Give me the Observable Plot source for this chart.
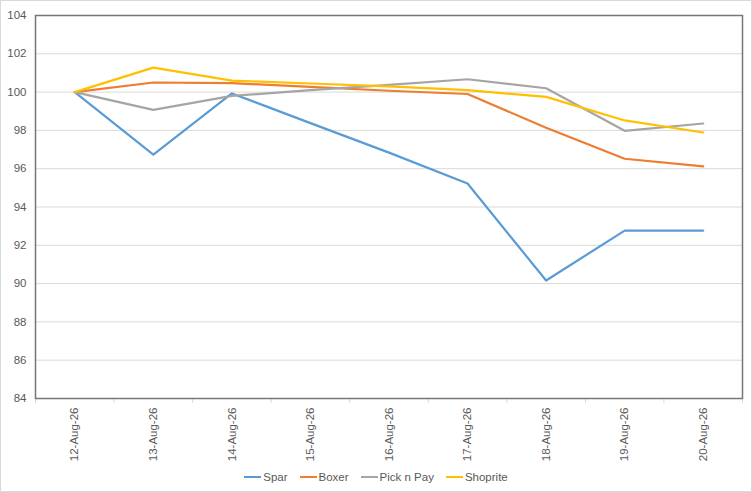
<!DOCTYPE html>
<html>
<head>
<meta charset="utf-8">
<script src="https://cdn.jsdelivr.net/npm/d3@7"></script>
<script src="https://cdn.jsdelivr.net/npm/@observablehq/plot@0.6"></script>
<style>
  body { margin: 0; background: #fff; }
  #wrap { position: relative; width: 752px; height: 492px; font-family: "Liberation Sans", Arial, sans-serif; }
  #border { position: absolute; left: 0; top: 0; width: 752px; height: 492px; box-sizing: border-box; border: 1px solid #d9d9d9; pointer-events: none; }
  #legend { height: 30px; display: flex; justify-content: center; align-items: center; font-size: 11.5px; color: #595959; }
  .item { display: flex; align-items: center; margin: 0 6px; }
  .sw { width: 17px; height: 2px; margin-right: 2px; }
</style>
</head>
<body>
<div id="wrap"><div id="chart"></div><div id="legend"></div><div id="border"></div></div>
<script>
const dates = ["12-Aug-26","13-Aug-26","14-Aug-26","15-Aug-26","16-Aug-26","17-Aug-26","18-Aug-26","19-Aug-26","20-Aug-26"];
const seriesNames = ["Spar","Boxer","Pick n Pay","Shoprite"];
const seriesColors = ["#5b9bd5","#ed7d31","#a5a5a5","#ffc000"];
const spar     = [100, 96.74, 99.93, 98.38, 96.84, 95.23, 90.16, 92.77, 92.77];
const boxer    = [100, 100.50, 100.47, 100.27, 100.07, 99.90, 98.14, 96.52, 96.12];
const pickNPay = [100, 99.07, 99.80, 100.10, 100.38, 100.67, 100.20, 97.98, 98.36];
const shoprite = [100, 101.28, 100.60, 100.45, 100.30, 100.10, 99.75, 98.52, 97.89];
const yTicks = [84, 86, 88, 90, 92, 94, 96, 98, 100, 102, 104];

const seriesValues = [spar, boxer, pickNPay, shoprite];
const data = [];
seriesNames.forEach((name, s) => seriesValues[s].forEach((v, i) => data.push({series: name, i, value: v})));

const idx = d3.range(dates.length);
const bounds = d3.range(dates.length + 1).map(k => k - 0.5);

const chart = Plot.plot({
  width: 752,
  height: 462,
  marginLeft: 35,
  marginTop: 15,
  marginRight: 10,
  marginBottom: 64,
  style: {fontFamily: "'Liberation Sans', Arial, sans-serif", fontSize: "11.5px", color: "#595959", background: "#fff"},
  x: {type: "linear", domain: [-0.5, dates.length - 0.5], axis: null, label: null},
  y: {domain: [84, 104], axis: null, label: null},
  color: {domain: seriesNames, range: seriesColors},
  marks: [
    Plot.gridY(yTicks, {stroke: "#d9d9d9", strokeOpacity: 1, strokeWidth: 1}),
    Plot.axisY({ticks: yTicks, label: null, tickSize: 0, tickPadding: 9, fontSize: "11.5px", fill: "#595959"}),
    Plot.axisX({ticks: bounds, label: null, tickFormat: () => "", tickSize: 5, stroke: "#d9d9d9"}),
    Plot.axisX({ticks: idx, label: null, tickFormat: i => dates[i], tickSize: 0, tickPadding: 9, tickRotate: -90, fontSize: "11.5px", fill: "#595959"}),
    Plot.line(data, {x: "i", y: "value", z: "series", stroke: "series", strokeWidth: 2.2, strokeLinejoin: "round"}),
    Plot.frame({stroke: "#767676", strokeWidth: 1.5})
  ]
});
document.getElementById("chart").appendChild(chart);

const legend = document.getElementById("legend");
seriesNames.forEach((name, s) => {
  const item = document.createElement("div");
  item.className = "item";
  const sw = document.createElement("div");
  sw.className = "sw";
  sw.style.background = seriesColors[s];
  const t = document.createElement("span");
  t.textContent = name;
  item.appendChild(sw);
  item.appendChild(t);
  legend.appendChild(item);
});
</script>
</body>
</html>
